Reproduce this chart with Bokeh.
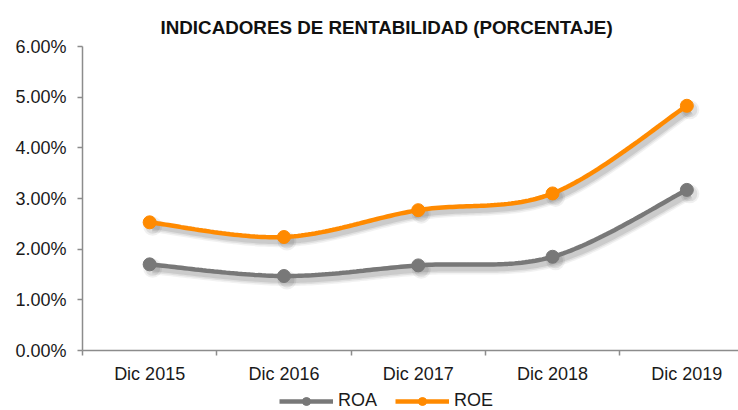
import numpy as np
from bokeh.plotting import figure
from bokeh.layouts import column
from bokeh.models import (FixedTicker, NumeralTickFormatter, Legend, LegendItem,
                          Range1d, Title)
from bokeh.embed import file_html
from bokeh.resources import INLINE

# ---- data ----
categories = ["Dic 2015", "Dic 2016", "Dic 2017", "Dic 2018", "Dic 2019"]
roa = [0.0170, 0.0147, 0.0168, 0.0185, 0.0317]
roe = [0.0253, 0.0224, 0.0277, 0.0310, 0.0483]
y_ticks = [0.0, 0.01, 0.02, 0.03, 0.04, 0.05, 0.06]
series_names = ["ROA", "ROE"]

ORANGE = "#FF8A00"
GRAY = "#787878"
FONT = "Liberation Sans"

xs = list(range(len(categories)))


def smooth(x, y, n=40):
    P = np.column_stack([x, y]).astype(float)
    m = len(P)
    out = []
    for i in range(m - 1):
        p0 = P[i - 1] if i > 0 else P[i]
        p1 = P[i]
        p2 = P[i + 1]
        p3 = P[i + 2] if i + 2 < m else P[i + 1]
        b1 = p1 + (p2 - p0) / 6.0
        b2 = p2 - (p3 - p1) / 6.0
        t = np.linspace(0, 1, n)[:, None]
        seg = ((1 - t) ** 3) * p1 + 3 * ((1 - t) ** 2) * t * b1 + 3 * (1 - t) * t ** 2 * b2 + t ** 3 * p2
        if i > 0:
            seg = seg[1:]
        out.append(seg)
    c = np.vstack(out)
    return c[:, 0], c[:, 1]


W, H = 738, 386
LEFT, TOP, BOTTOM = 82, 46, 34
frame_w = W - LEFT
frame_h = H - TOP - BOTTOM
cat_px = 134.3
x_end = -0.5 + frame_w / cat_px

p = figure(width=W, height=H, output_backend="svg", toolbar_location=None,
           x_range=Range1d(-0.5, x_end), y_range=Range1d(0, 0.06),
           min_border_left=LEFT, min_border_top=TOP, min_border_bottom=BOTTOM,
           min_border_right=0)
p.outline_line_color = None
p.grid.visible = False
p.background_fill_color = "white"
p.border_fill_color = "white"

# shadow offsets (in data units derived from pixel scale)
dx = 3.0 / cat_px
dy = -4.0 / (frame_h / 0.06)

for series in (roa, roe):
    sx, sy = smooth(xs, series)
    for w, a in ((12, 0.05), (9, 0.07), (6, 0.09)):
        p.line(sx + dx, sy + dy, line_color="#000000", line_width=w, line_alpha=a)
    for s, a in ((19, 0.06), (15, 0.08)):
        p.scatter(np.array(xs) + dx, np.array(series) + dy, size=s, fill_color="#000000",
                  fill_alpha=a, line_color=None)

for name, series, col in zip(series_names, (roa, roe), (GRAY, ORANGE)):
    sx, sy = smooth(xs, series)
    p.line(sx, sy, line_color=col, line_width=4.5)
    p.scatter(xs, series, size=13, fill_color=col, line_color=col)

# axes
xa = p.xaxis[0]
xa.ticker = FixedTicker(ticks=xs, minor_ticks=[i - 0.5 for i in range(len(categories) + 1)])
xa.major_label_overrides = {i: c for i, c in enumerate(categories)}
xa.major_tick_out = 0
xa.major_tick_in = 0
xa.minor_tick_out = 5
xa.minor_tick_in = 0
xa.minor_tick_line_color = "#8c8c8c"
xa.minor_tick_line_width = 1.5
xa.axis_line_color = "#8c8c8c"
xa.axis_line_width = 1.5
xa.major_label_text_font = FONT
xa.major_label_text_font_size = "18px"
xa.major_label_text_color = "#1a1a1a"
xa.major_label_standoff = 8

ya = p.yaxis[0]
ya.ticker = FixedTicker(ticks=y_ticks, minor_ticks=[])
ya.formatter = NumeralTickFormatter(format="0.00%")
ya.major_tick_out = 5
ya.major_tick_in = 0
ya.major_tick_line_color = "#8c8c8c"
ya.major_tick_line_width = 1.5
ya.axis_line_color = "#8c8c8c"
ya.axis_line_width = 1.5
ya.major_label_text_font = FONT
ya.major_label_text_font_size = "18px"
ya.major_label_text_color = "#1a1a1a"
ya.major_label_standoff = 11

# title
p.title = Title(text="INDICADORES DE RENTABILIDAD (PORCENTAJE)", align="left",
                offset=78, text_font=FONT, text_font_size="18.8px", text_font_style="bold",
                text_color="#111111", standoff=18)

# ---- legend strip below the chart (frame aligned with the chart's frame) ----
LH = 410 - H
q = figure(width=W, height=LH, output_backend="svg", toolbar_location=None,
           x_axis_location=None, y_axis_location=None, min_border=0,
           min_border_left=LEFT, x_range=Range1d(0, 1), y_range=Range1d(0, 1))
q.outline_line_color = None
q.grid.visible = False
q.border_fill_color = "white"
items = []
for name, col in zip(series_names, (GRAY, ORANGE)):
    l = q.line(x=[np.nan], y=[np.nan], line_color=col, line_width=4.5)
    s = q.scatter(x=[np.nan], y=[np.nan], size=11, fill_color=col, line_color=col)
    items.append(LegendItem(label=name, renderers=[l, s]))

legend = Legend(items=items, location=(197, -1), orientation="horizontal",
                label_text_font=FONT, label_text_font_size="18px",
                label_text_color="#1a1a1a", glyph_width=54, glyph_height=20,
                label_height=20, label_standoff=5, spacing=18, padding=0, margin=0,
                border_line_color=None, background_fill_alpha=0)
q.add_layout(legend, "center")

layout = column(p, q, spacing=0)
open("out.html", "w").write(file_html(layout, INLINE))
